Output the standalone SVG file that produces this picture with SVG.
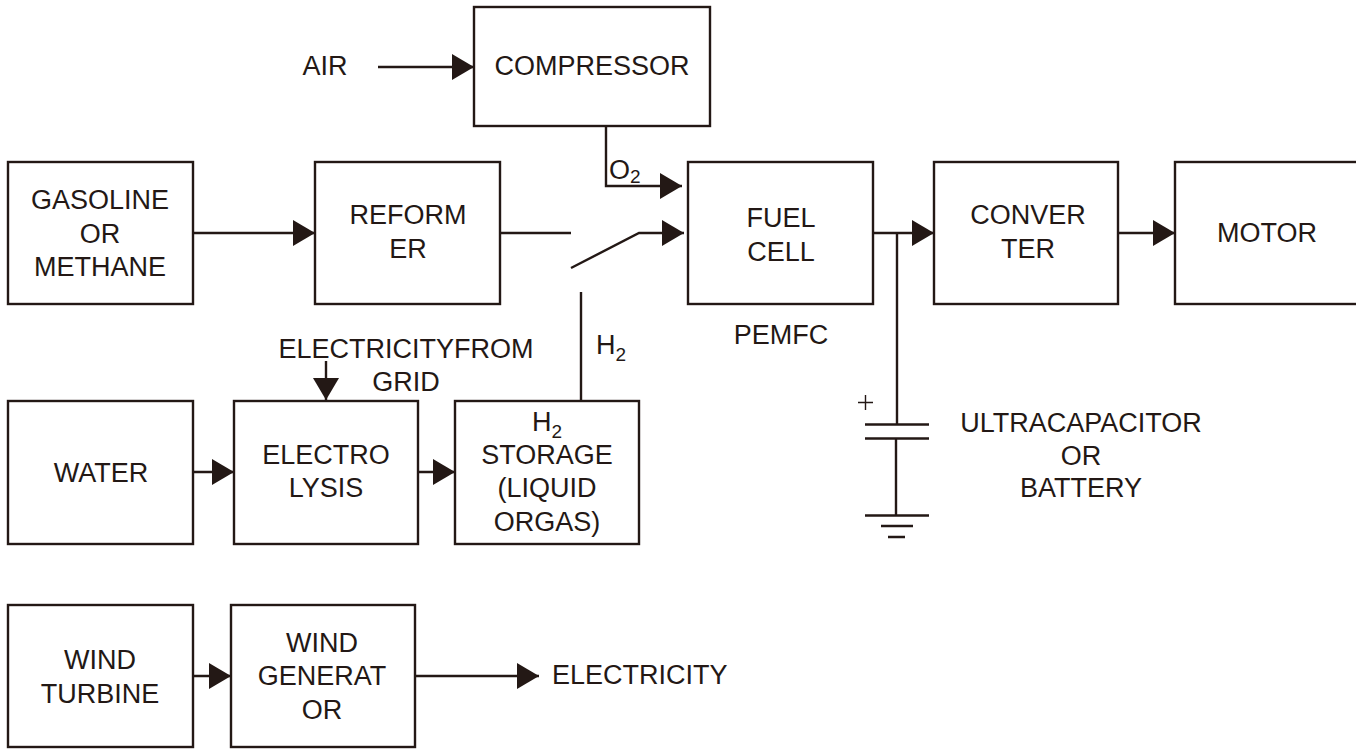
<svg xmlns="http://www.w3.org/2000/svg" width="1356" height="749" viewBox="0 0 1356 749">
<style>
.b{fill:#fff;stroke:#231815;stroke-width:2.4}
.c{fill:none;stroke:#231815;stroke-width:2.4}
text{font-family:"Liberation Sans",Arial,sans-serif;font-size:27px;fill:#231815;text-anchor:middle}
.l{text-anchor:start}
tspan.s{font-size:19px}
</style>
<defs>
<marker id="a" markerUnits="userSpaceOnUse" markerWidth="24" markerHeight="26" refX="22" refY="13" orient="auto"><path d="M0 0L22 13L0 26Z" fill="#231815"/></marker>
</defs>
<rect width="1356" height="749" fill="#fff"/>
<g id="connectors">
<path class="c" d="M378 67H474" marker-end="url(#a)"/>
<path class="c" d="M606 126V186H682" marker-end="url(#a)"/>
<path class="c" d="M193 233H315" marker-end="url(#a)"/>
<path class="c" d="M500 233H571"/>
<path class="c" d="M571 268L639 233H684" marker-end="url(#a)"/>
<path class="c" d="M581 292V401"/>
<path class="c" d="M873 233H934" marker-end="url(#a)"/>
<path class="c" d="M1118 233H1175" marker-end="url(#a)"/>
<path class="c" d="M193 472H234" marker-end="url(#a)"/>
<path class="c" d="M418 472H455" marker-end="url(#a)"/>
<path class="c" d="M326 361V400" marker-end="url(#a)"/>
<path class="c" d="M193 676H231" marker-end="url(#a)"/>
<path class="c" d="M415 676H539" marker-end="url(#a)"/>
<path class="c" d="M897 233V424M865 424.500H929M865 438.500H929M896 438V515.500M865 515.500H929M881 526H913M888 537H905"/>
<path d="M858 402.500H873M865.500 395V410" fill="none" stroke="#231815" stroke-width="1.400"/>
</g>
<g id="compressor"><rect class="b" x="474" y="7" width="236" height="119"/><text x="592" y="75">COMPRESSOR</text></g>
<text id="air" x="325" y="75">AIR</text>
<g id="gasoline"><rect class="b" x="8" y="162" width="185" height="142"/><text x="100" y="209">GASOLINE</text><text x="100" y="243">OR</text><text x="100" y="276">METHANE</text></g>
<g id="reformer"><rect class="b" x="315" y="162" width="185" height="142"/><text x="408" y="224">REFORM</text><text x="408" y="258">ER</text></g>
<g id="fuelcell"><rect class="b" x="688" y="162" width="185" height="142"/><text x="781" y="227">FUEL</text><text x="781" y="261">CELL</text></g>
<g id="converter"><rect class="b" x="934" y="162" width="184" height="142"/><text x="1028" y="224">CONVER</text><text x="1028" y="258">TER</text></g>
<g id="motor"><rect class="b" x="1175" y="162" width="185" height="142"/><text x="1267" y="242">MOTOR</text></g>
<g id="water"><rect class="b" x="8" y="401" width="185" height="143"/><text x="101" y="482">WATER</text></g>
<g id="electrolysis"><rect class="b" x="234" y="401" width="184" height="143"/><text x="326" y="464">ELECTRO</text><text x="326" y="497">LYSIS</text></g>
<g id="storage"><rect class="b" x="455" y="401" width="184" height="143"/><text x="547" y="431">H<tspan class="s" dy="7">2</tspan></text><text x="547" y="464">STORAGE</text><text x="547" y="497">(LIQUID</text><text x="547" y="531">ORGAS)</text></g>
<g id="windturbine"><rect class="b" x="8" y="605" width="185" height="142"/><text x="100" y="669">WIND</text><text x="100" y="703">TURBINE</text></g>
<g id="windgenerator"><rect class="b" x="231" y="605" width="184" height="142"/><text x="322" y="652">WIND</text><text x="322" y="685">GENERAT</text><text x="322" y="719">OR</text></g>
<g id="labels">
<text x="406" y="358">ELECTRICITYFROM</text>
<text x="406" y="391">GRID</text>
<text class="l" x="596" y="354">H<tspan class="s" dy="7">2</tspan></text>
<text class="l" x="609" y="179">O<tspan class="s" dy="4">2</tspan></text>
<text x="781" y="344">PEMFC</text>
<text x="1081" y="432">ULTRACAPACITOR</text>
<text x="1081" y="465">OR</text>
<text x="1081" y="497">BATTERY</text>
<text class="l" x="552" y="684">ELECTRICITY</text>
</g>
</svg>
